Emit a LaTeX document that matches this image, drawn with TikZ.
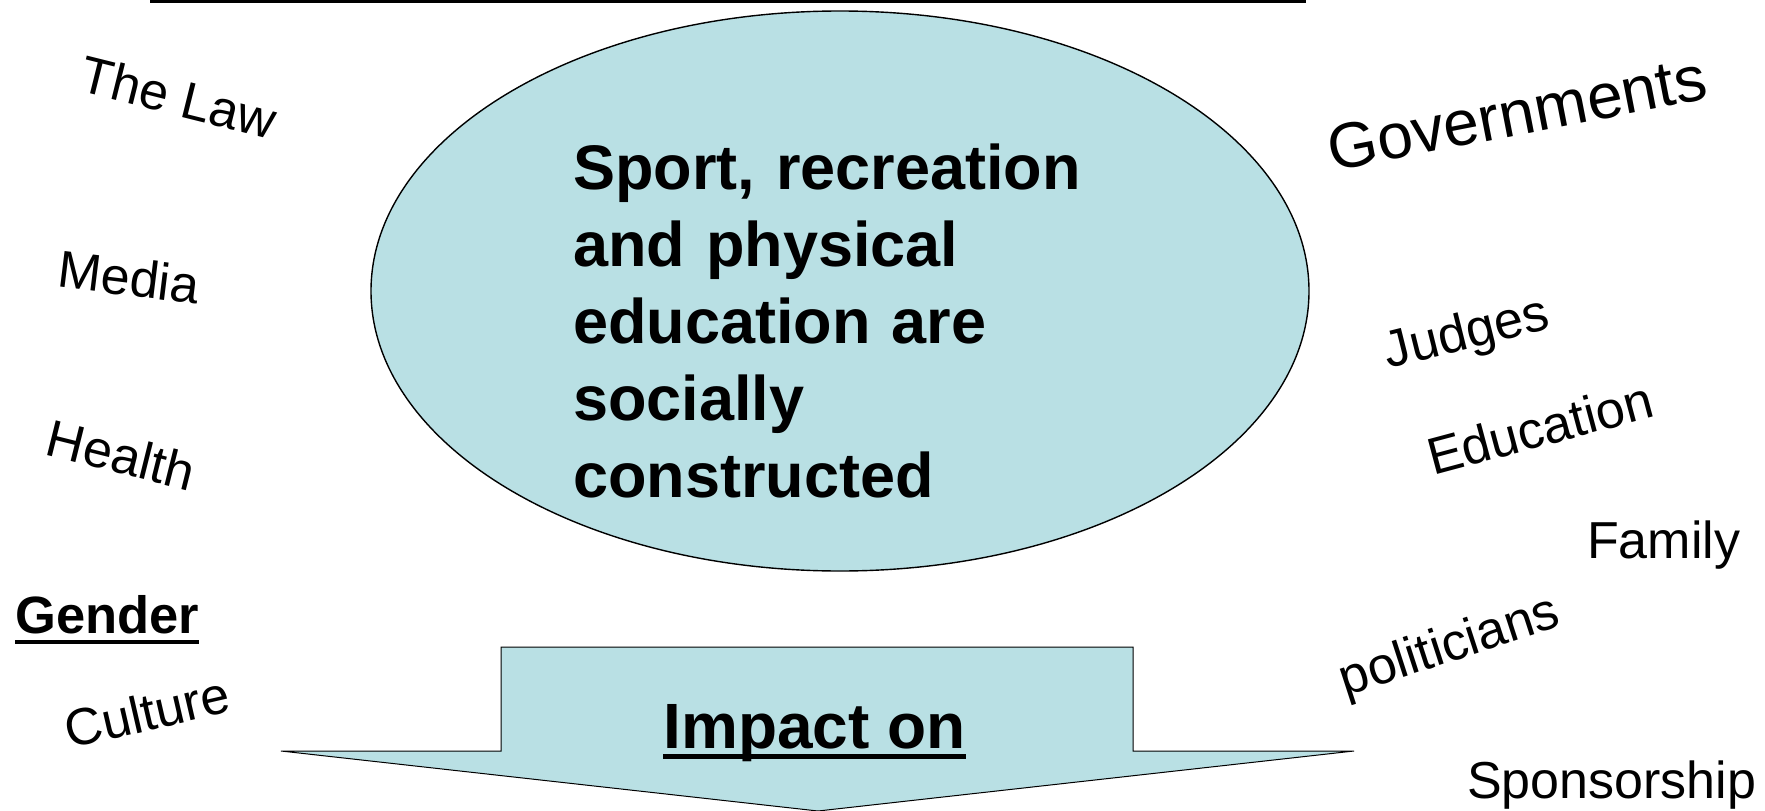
\documentclass[tikz,border=0pt]{standalone}
\usepackage{fontspec}
\setmainfont{Liberation Sans}
\usetikzlibrary{shapes.geometric}
\definecolor{paleteal}{RGB}{185,224,228}

\begin{document}
\begin{tikzpicture}[x=1pt,y=-1pt,
  word/.style={inner sep=0pt,font=\fontsize{52}{60}\selectfont},
  bigword/.style={inner sep=0pt,font=\fontsize{64}{75}\selectfont},
  boldword/.style={inner sep=0pt,font=\bfseries\fontsize{52.5}{60}\selectfont},
  uline/.style={line width=4.5pt}]
\useasboundingbox (0,0) rectangle (1765,811);
\draw[line width=2.5pt] (150,1.5) -- (1306,1.5);
% centre bubble
\node[ellipse,draw,line width=1.4pt,fill=paleteal,minimum width=938pt,minimum height=560pt,inner sep=0pt] (bubble) at (840,291) {};
\node[anchor=base west,inner sep=0pt,text width=600pt,align=left,font=\bfseries\fontsize{63}{77}\selectfont] (claim) at (573,189) {Sport, recreation\\and physical\\education are\\socially\\constructed};
% down arrow
\draw[line width=1pt,fill=paleteal,line join=miter] (501,647) -- (1133,647) -- (1133,751) -- (1354,751) -- (818,811) -- (281,751) -- (501,751) -- cycle;
\node[boldword,font=\bfseries\fontsize{64}{72}\selectfont,anchor=base] (impact) at (814.5,748) {Impact on};
\draw[uline,line width=5pt] ([yshift=-8pt]impact.base west) -- ([yshift=-8pt]impact.base east);
% left side
\node[word,rotate=-14] (law) at (179,97) {The Law};
\node[word,rotate=-7] (media) at (129,277) {Media};
\node[word,rotate=-14] (health) at (121,455) {Health};
\node[boldword,anchor=base west] (gender) at (15,633) {Gender};
\draw[uline] ([yshift=-9pt]gender.base west) -- ([yshift=-9pt]gender.base east);
\node[word,rotate=13] (culture) at (147,712) {Culture};
% right side
\node[bigword,rotate=11] (govts) at (1517,113) {Governments};
\node[word,rotate=14] (judges) at (1467,335) {Judges};
\node[word,rotate=15] (educ) at (1540,428) {Education};
\node[word,anchor=base west] (family) at (1587,558) {Family};
\node[word,rotate=18] (politicians) at (1450,648) {politicians};
\node[word,anchor=base west] (sponsor) at (1467,798) {Sponsorship};
\end{tikzpicture}
\end{document}
